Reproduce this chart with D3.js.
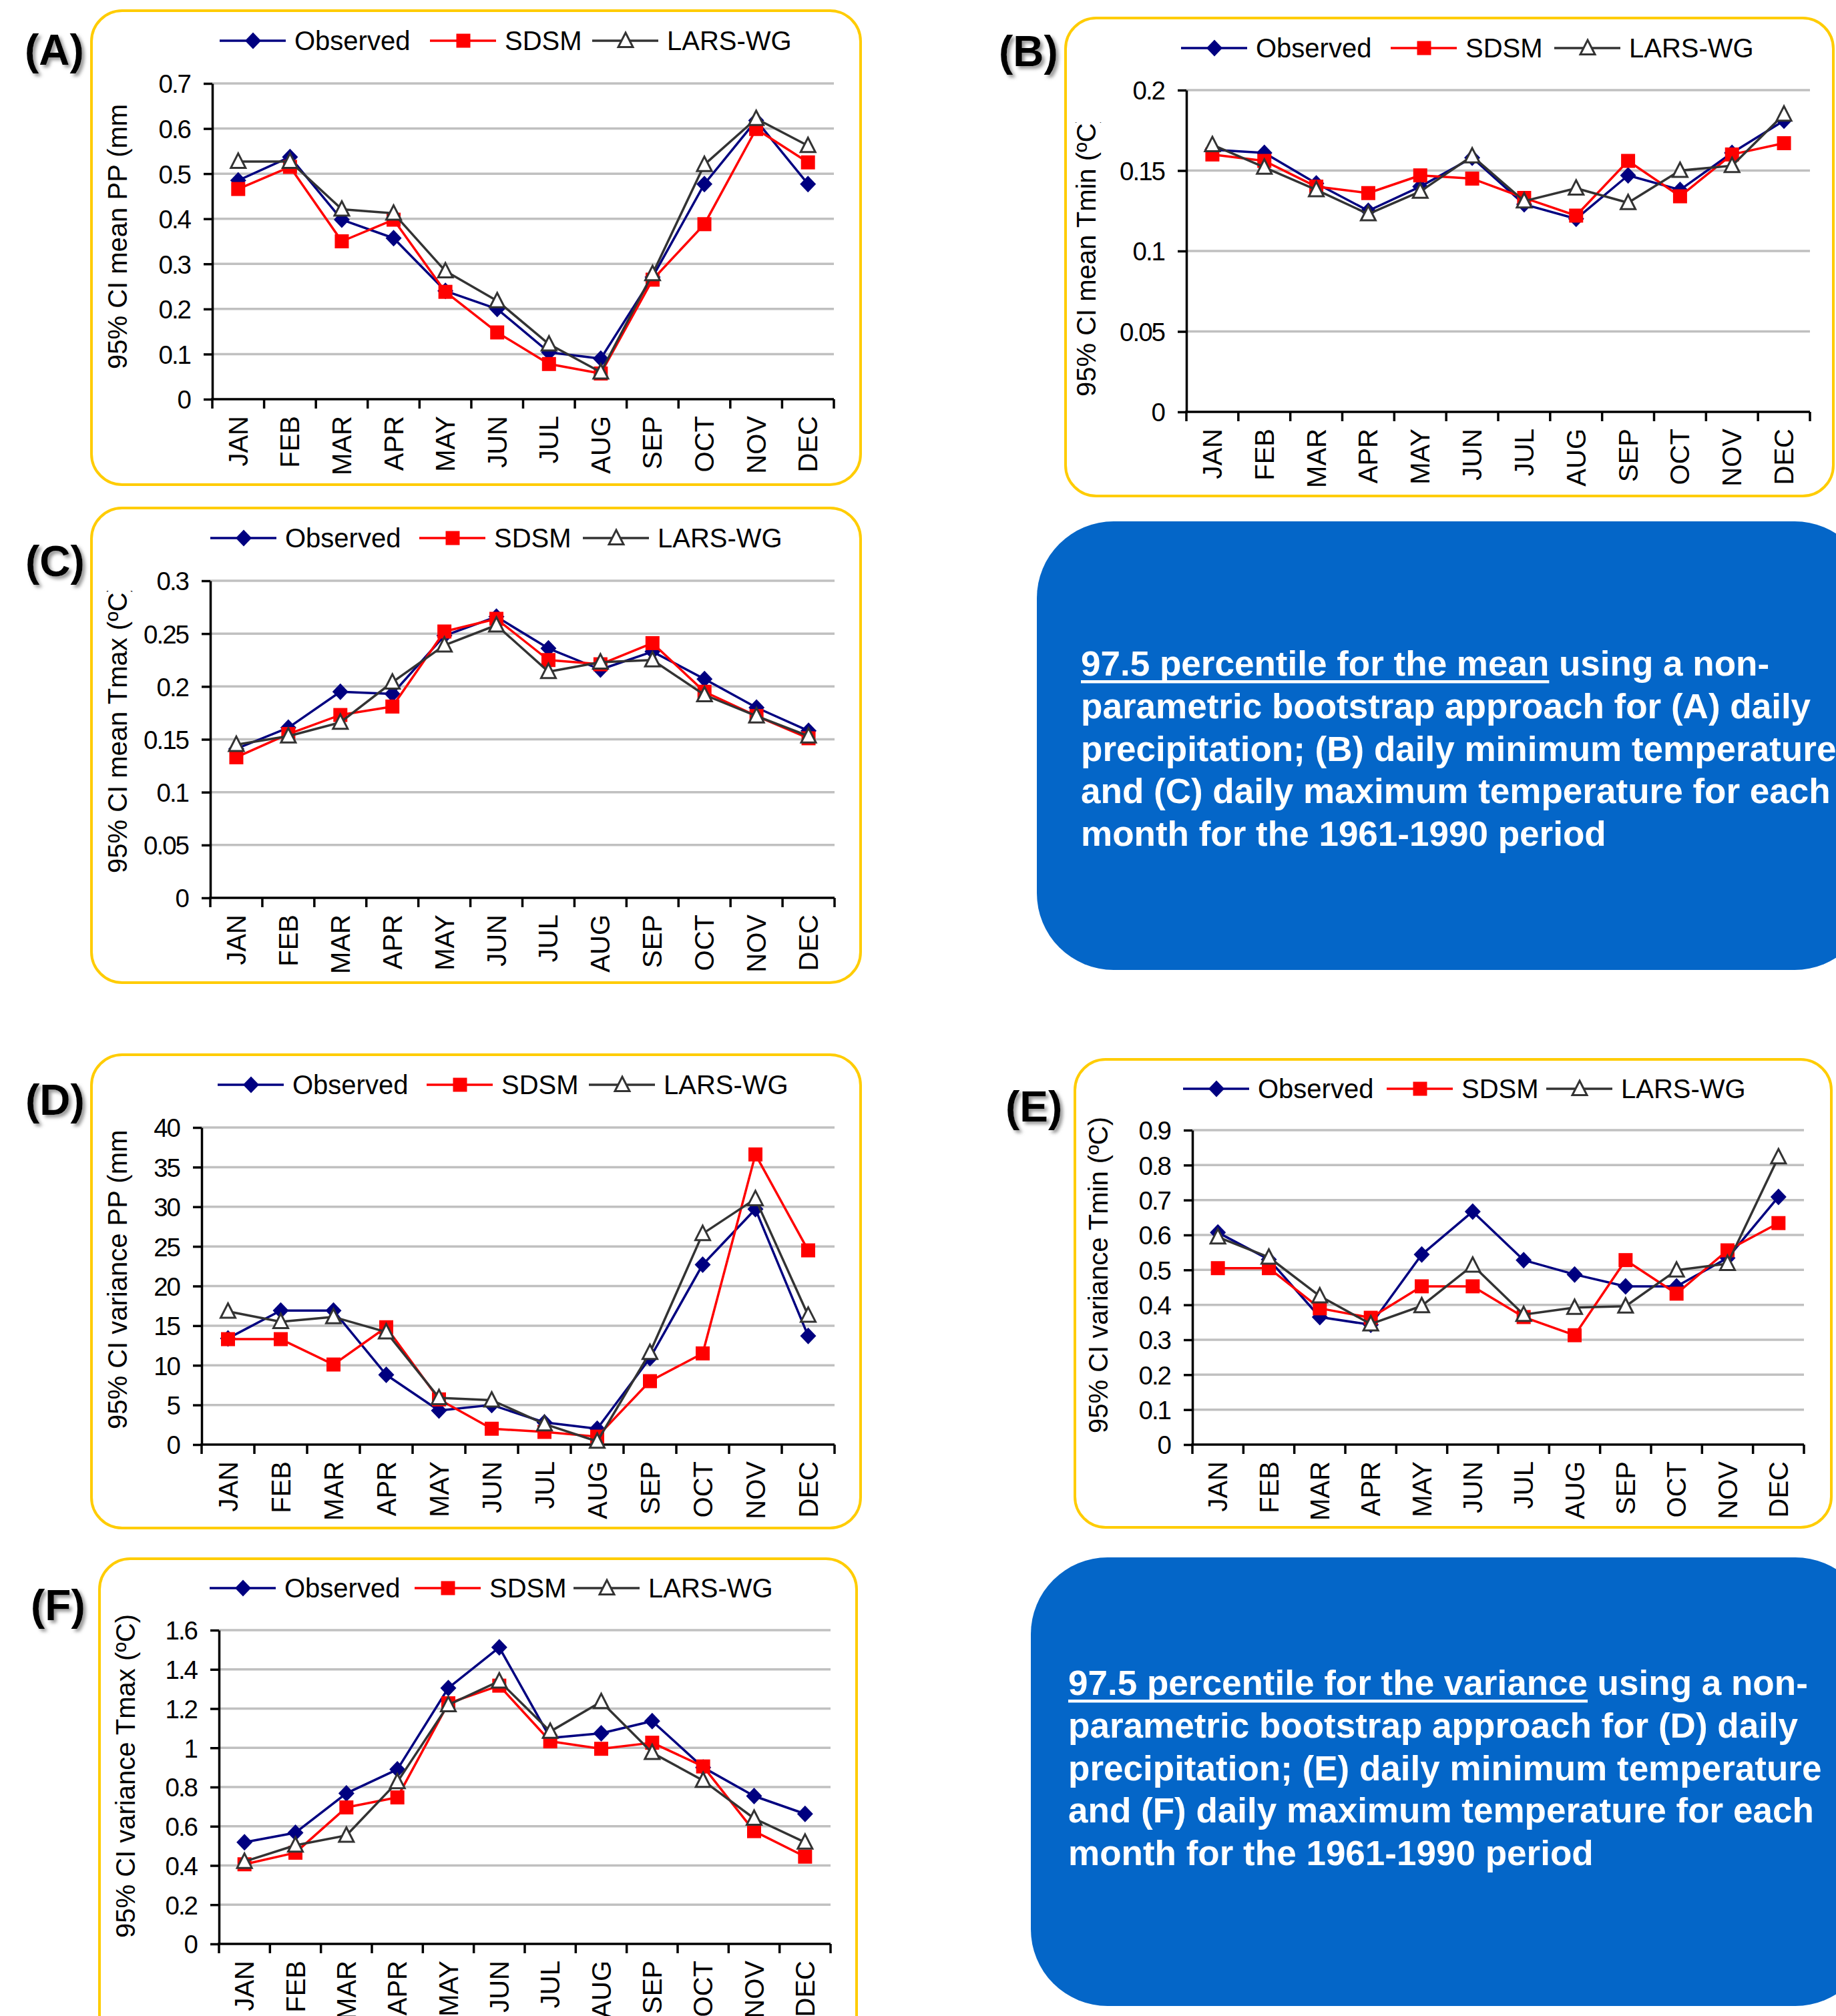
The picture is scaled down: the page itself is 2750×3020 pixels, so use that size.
<!DOCTYPE html>
<html>
<head>
<meta charset="utf-8">
<script src="https://cdn.jsdelivr.net/npm/d3@7"></script>
<style>
  html, body { margin: 0; padding: 0; background: #fff; }
  svg { display: block; }
  text { font-family: "Liberation Sans", Arial, Helvetica, sans-serif; }
</style>
</head>
<body>
<svg id="fig" width="2750" height="3020"></svg>
<script>
// ---------------- data ----------------
const months = ["JAN","FEB","MAR","APR","MAY","JUN","JUL","AUG","SEP","OCT","NOV","DEC"];
const seriesNames = ["Observed","SDSM","LARS-WG"];

// (A) 95% CI of the mean, daily precipitation (mm)
const meanPpObserved = [0.485,0.537,0.398,0.357,0.240,0.200,0.104,0.090,0.271,0.477,0.618,0.477];
const meanPpSdsm     = [0.466,0.515,0.350,0.398,0.238,0.148,0.078,0.057,0.265,0.388,0.599,0.525];
const meanPpLars     = [0.527,0.527,0.421,0.412,0.284,0.218,0.122,0.060,0.278,0.520,0.622,0.562];
const meanPpTicks    = [0,0.1,0.2,0.3,0.4,0.5,0.6,0.7];

// (B) 95% CI of the mean, daily minimum temperature
const meanTminObserved = [0.163,0.161,0.142,0.125,0.140,0.158,0.129,0.120,0.147,0.138,0.161,0.181];
const meanTminSdsm     = [0.160,0.156,0.140,0.136,0.147,0.145,0.133,0.122,0.156,0.134,0.160,0.167];
const meanTminLars     = [0.166,0.152,0.138,0.123,0.137,0.159,0.131,0.139,0.130,0.150,0.153,0.185];
const meanTminTicks    = [0,0.05,0.1,0.15,0.2];

// (C) 95% CI of the mean, daily maximum temperature
const meanTmaxObserved = [0.141,0.161,0.195,0.193,0.248,0.266,0.236,0.216,0.233,0.207,0.180,0.158];
const meanTmaxSdsm     = [0.133,0.155,0.173,0.181,0.252,0.264,0.225,0.221,0.241,0.195,0.172,0.151];
const meanTmaxLars     = [0.145,0.153,0.166,0.204,0.239,0.258,0.214,0.223,0.225,0.192,0.172,0.153];
const meanTmaxTicks    = [0,0.05,0.1,0.15,0.2,0.25,0.3];

// (D) 95% CI of the variance, daily precipitation
const varPpObserved = [13.4,16.9,16.9,8.8,4.3,5.0,2.8,2.0,10.9,22.7,29.7,13.7];
const varPpSdsm     = [13.3,13.3,10.1,14.8,5.7,2.0,1.6,1.0,8.0,11.5,36.6,24.5];
const varPpLars     = [16.8,15.5,16.1,14.2,5.9,5.6,2.6,0.4,11.6,26.6,31.0,16.3];
const varPpTicks    = [0,5,10,15,20,25,30,35,40];

// (E) 95% CI of the variance, daily minimum temperature
const varTminObserved = [0.607,0.530,0.365,0.343,0.544,0.667,0.528,0.487,0.453,0.453,0.534,0.709];
const varTminSdsm     = [0.505,0.505,0.390,0.363,0.453,0.453,0.365,0.313,0.528,0.432,0.556,0.634];
const varTminLars     = [0.594,0.536,0.425,0.345,0.397,0.513,0.372,0.392,0.396,0.499,0.518,0.823];
const varTminTicks    = [0,0.1,0.2,0.3,0.4,0.5,0.6,0.7,0.8,0.9];

// (F) 95% CI of the variance, daily maximum temperature
const varTmaxObserved = [0.518,0.567,0.768,0.890,1.305,1.512,1.050,1.074,1.136,0.900,0.754,0.663];
const varTmaxSdsm     = [0.406,0.465,0.696,0.747,1.227,1.317,1.033,0.995,1.026,0.905,0.575,0.445];
const varTmaxLars     = [0.420,0.503,0.553,0.826,1.219,1.340,1.083,1.235,0.975,0.833,0.640,0.518];
const varTmaxTicks    = [0,0.2,0.4,0.6,0.8,1,1.2,1.4,1.6];

const meanCaption = ["using a non-",
  "parametric bootstrap approach for (A) daily",
  "precipitation; (B) daily minimum temperature",
  "and (C) daily maximum temperature for each",
  "month for the 1961-1990 period"];
const varCaption = ["using a non-",
  "parametric bootstrap approach for (D) daily",
  "precipitation; (E) daily minimum temperature",
  "and (F) daily maximum temperature for each",
  "month for the 1961-1990 period"];

// ---------------- layout ----------------
const panels = [
  { tag:"(A)", tagPos:[37,97], title:"95% CI mean PP (mm)", titlePos:[176,553], titleClip:157,
    series:[meanPpObserved, meanPpSdsm, meanPpLars], ticks:meanPpTicks,
    box:[137,16,1152,710], plot:[318,125,1249,598], legend:{y:61, x:[329,644,887]} },
  { tag:"(B)", tagPos:[1496,99], title:"95% CI mean Tmin (ºC)", titlePos:[1627,594], titleClip:183,
    series:[meanTminObserved, meanTminSdsm, meanTminLars], ticks:meanTminTicks,
    box:[1596,27,1150,716], plot:[1777,135,2711,617], legend:{y:72, x:[1769,2083,2328]} },
  { tag:"(C)", tagPos:[38,863], title:"95% CI mean Tmax (ºC)", titlePos:[176,1308], titleClip:885,
    series:[meanTmaxObserved, meanTmaxSdsm, meanTmaxLars], ticks:meanTmaxTicks,
    box:[137,761,1152,711], plot:[315,870,1250,1345], legend:{y:806, x:[315,628,873]} },
  { tag:"(D)", tagPos:[38,1670], title:"95% CI variance PP (mm)", titlePos:[176,2141], titleClip:1693,
    series:[varPpObserved, varPpSdsm, varPpLars], ticks:varPpTicks,
    box:[137,1580,1152,709], plot:[302,1689,1250,2164], legend:{y:1625, x:[326,639,882]} },
  { tag:"(E)", tagPos:[1506,1680], title:"95% CI variance Tmin (ºC)", titlePos:[1645,2147], titleClip:1600,
    series:[varTminObserved, varTminSdsm, varTminLars], ticks:varTminTicks,
    box:[1610,1587,1133,701], plot:[1786,1693,2702,2164], legend:{y:1631, x:[1772,2077,2316]} },
  { tag:"(F)", tagPos:[46,2427], title:"95% CI variance Tmax (ºC)", titlePos:[188,2903], titleClip:2350,
    series:[varTmaxObserved, varTmaxSdsm, varTmaxLars], ticks:varTmaxTicks,
    box:[149,2335,1134,740], plot:[328,2442,1244,2912], legend:{y:2379, x:[314,621,859]} }
];

const styles = [
  { color:"#000080", marker:"diamond" },
  { color:"#FF0000", marker:"square" },
  { color:"#333333", marker:"triangle" }
];

const svg = d3.select("#fig");
const defs = svg.append("defs");
const shadow = defs.append("filter").attr("id","tagShadow")
  .attr("x","-20%").attr("y","-20%").attr("width","150%").attr("height","150%");
shadow.append("feDropShadow").attr("dx",4).attr("dy",4).attr("stdDeviation",2.5)
  .attr("flood-color","#7f7f7f").attr("flood-opacity",0.8);

function markerPath(kind) {
  if (kind === "diamond") return "M0,-12.5L12,0L0,12.5L-12,0Z";
  if (kind === "square") return "M-10.5,-10.5H10.5V10.5H-10.5Z";
  return "M0,-12L11,9.5H-11Z";
}

function drawMarker(g, kind, color, cx, cy) {
  const m = g.append("path").attr("d", markerPath(kind))
    .attr("transform", `translate(${cx},${cy})`);
  if (kind === "triangle") {
    m.attr("fill","#fff").attr("stroke",color).attr("stroke-width",3).attr("stroke-linejoin","miter");
  } else {
    m.attr("fill",color).attr("stroke","none");
  }
}

panels.forEach((p, pi) => {
  const g = svg.append("g");
  const [bx, by, bw, bh] = p.box;
  g.append("rect").attr("x",bx).attr("y",by).attr("width",bw).attr("height",bh)
    .attr("rx",46).attr("ry",46).attr("fill","#fff")
    .attr("stroke","#FFCC00").attr("stroke-width",4);

  const [x0, yTop, x1, yBot] = p.plot;
  const x = d3.scaleBand().domain(months).range([x0, x1]);
  const y = d3.scaleLinear().domain([0, p.ticks[p.ticks.length - 1]]).range([yBot, yTop]);
  const half = x.bandwidth() / 2;

  // gridlines
  g.append("g").selectAll("line").data(p.ticks.slice(1)).join("line")
    .attr("x1", x0).attr("x2", x1).attr("y1", d => y(d)).attr("y2", d => y(d))
    .attr("stroke","#C0C0C0").attr("stroke-width",3.5);

  // y axis
  const yAxis = g.append("g").attr("transform", `translate(${x0},0)`)
    .call(d3.axisLeft(y).tickValues(p.ticks).tickFormat(d3.format("~g"))
      .tickSize(13).tickSizeOuter(0).tickPadding(20));
  yAxis.select(".domain").attr("stroke","#000").attr("stroke-width",3.5);
  yAxis.selectAll(".tick line").attr("stroke","#000").attr("stroke-width",3.5);
  yAxis.selectAll(".tick text").attr("font-size",38.5).attr("letter-spacing",-2).attr("fill","#000")
    .attr("dy","0.36em")
    .attr("font-family","Liberation Sans, Arial, sans-serif");

  // x axis
  const xg = g.append("g");
  xg.append("line").attr("x1", x0 - 1.75).attr("x2", x1).attr("y1", yBot).attr("y2", yBot)
    .attr("stroke","#000").attr("stroke-width",3.5);
  const bounds = months.map(m => x(m)).concat([x1]);
  xg.selectAll("line.tk").data(bounds).join("line").attr("class","tk")
    .attr("x1", d => d).attr("x2", d => d).attr("y1", yBot).attr("y2", yBot + 14)
    .attr("stroke","#000").attr("stroke-width",3.5);
  xg.selectAll("text").data(months).join("text")
    .attr("transform", d => `translate(${x(d) + half + 14},${yBot + 25}) rotate(-90)`)
    .attr("text-anchor","end").attr("font-size",40).attr("fill","#000")
    .text(d => d);

  // y-axis title, trimmed at the top like the original chart area
  const clipId = "titleClip" + pi;
  defs.append("clipPath").attr("id", clipId).append("rect")
    .attr("x", bx).attr("y", p.titleClip).attr("width", 200).attr("height", 1000);
  g.append("g").attr("clip-path", `url(#${clipId})`)
    .append("text")
    .attr("transform", `translate(${p.titlePos[0] + 14},${p.titlePos[1]}) rotate(-90)`)
    .attr("text-anchor","start").attr("font-size",40).attr("fill","#000")
    .text(p.title);

  // series
  const line = d3.line().x((d, i) => x(months[i]) + half).y(d => y(d));
  p.series.forEach((vals, si) => {
    const st = styles[si];
    const sg = g.append("g");
    sg.append("path").attr("d", line(vals)).attr("fill","none")
      .attr("stroke", st.color).attr("stroke-width",3.5).attr("stroke-linejoin","round");
    vals.forEach((v, i) => drawMarker(sg, st.marker, st.color, x(months[i]) + half, y(v)));
  });

  // legend
  seriesNames.forEach((name, si) => {
    const st = styles[si];
    const lx = p.legend.x[si], ly = p.legend.y;
    g.append("line").attr("x1", lx).attr("x2", lx + 99).attr("y1", ly).attr("y2", ly)
      .attr("stroke", st.color).attr("stroke-width",3.5);
    drawMarker(g, st.marker, st.color, lx + 50, ly);
    g.append("text").attr("x", lx + 112).attr("y", ly + 14)
      .attr("font-size",40).attr("fill","#000").text(name);
  });

  // panel tag
  svg.append("text").attr("x", p.tagPos[0]).attr("y", p.tagPos[1])
    .attr("font-size",64).attr("font-weight","bold").attr("fill","#000")
    .attr("filter","url(#tagShadow)").text(p.tag);
});

// caption boxes
function caption(box, lead, lines, textX, baseY) {
  const g = svg.append("g");
  g.append("rect").attr("x", box[0]).attr("y", box[1]).attr("width", box[2]).attr("height", box[3])
    .attr("rx",115).attr("ry",115).attr("fill","#0466C8");
  const tg = g.append("g").attr("transform", `translate(${textX},0) scale(1.04,1)`);
  const leadText = tg.append("text").attr("x",0).attr("y", baseY)
    .attr("font-size",51).attr("font-weight","bold").attr("fill","#fff").text(lead);
  const leadW = leadText.node().getComputedTextLength();
  tg.append("rect").attr("x",0).attr("y", baseY + 7).attr("width", leadW).attr("height",4.5).attr("fill","#fff");
  lines.forEach((t, i) => {
    tg.append("text").attr("x", i === 0 ? leadW + 14 : 0).attr("y", baseY + i * 63.8)
      .attr("font-size",51).attr("font-weight","bold").attr("fill","#fff").text(t);
  });
}
caption([1553,781,1250,672], "97.5 percentile for the mean", meanCaption, 1619, 1012);
caption([1544,2333,1260,672], "97.5 percentile for the variance", varCaption, 1600, 2539);
</script>
</body>
</html>
